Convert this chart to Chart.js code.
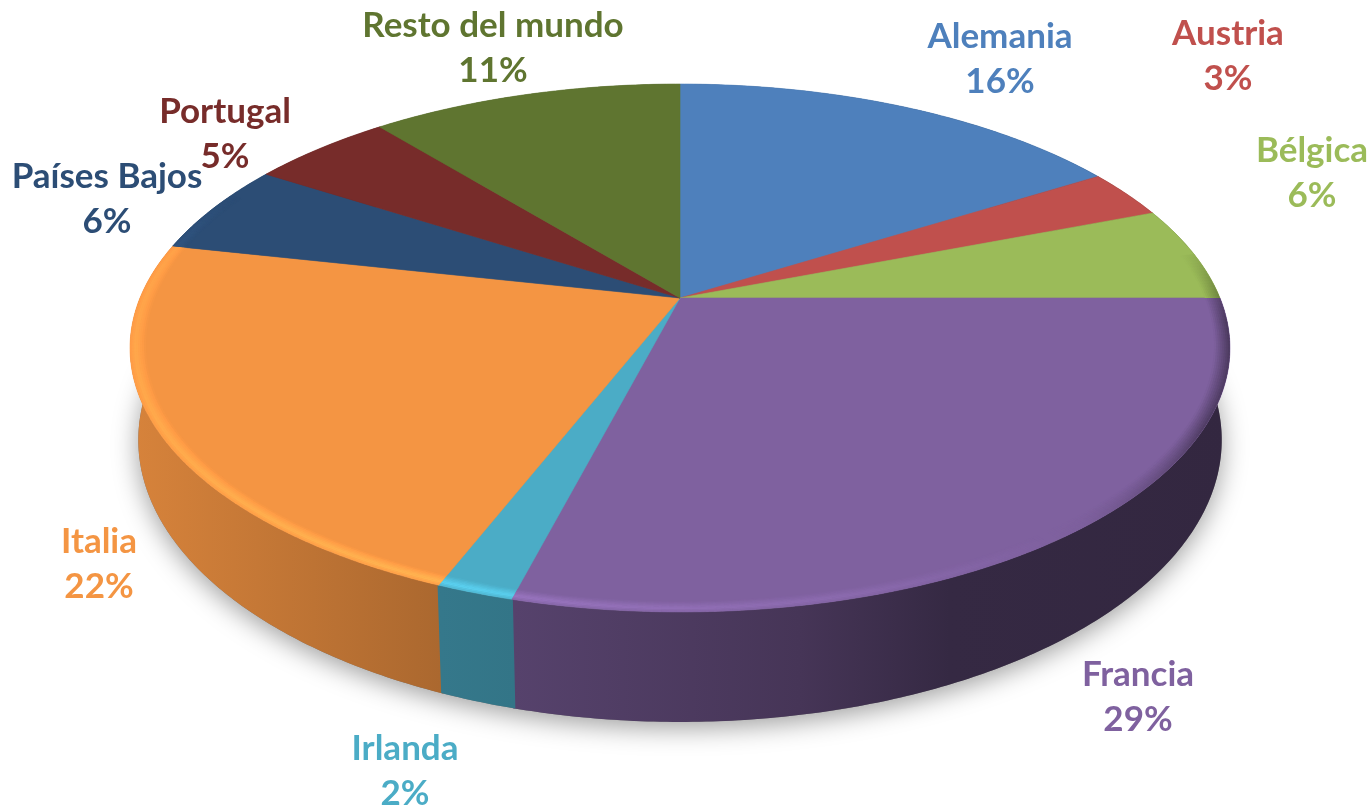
<!DOCTYPE html>
<html><head><meta charset="utf-8">
<style>html,body{margin:0;padding:0;background:#fff}canvas{display:block}</style>
<script src="https://cdn.jsdelivr.net/npm/chart.js@4"></script>
</head><body><canvas id="c" width="1369" height="806"></canvas>
<script>
const categories = ["Alemania","Austria","Bélgica","Francia","Irlanda","Italia","Países Bajos","Portugal","Resto del mundo"];
const shares = [16.2,3,5.8,29.1,1.9,22.4,5.6,5,11];
const sliceColors = ["#4e80bc","#c0504d","#9bbb59","#7f619f","#4bacc6","#f49543","#2c4d75","#772c2a","#5f7530"];
const labelAnchors = [[1000,36.5],[1228,33.5],[1312,150.5],[1138,674.5],[405,748.5],[99,541.5],[107,176.5],[225,111.5],[493,25.5]];

/* perspective of the tilted disc */
const CX=680, CY=298, R=540, TILT_A=254.5, TILT_K=0.1894;
const project=(r,ang)=>{const u=r*Math.cos(ang), v=r*Math.sin(ang), w=1-TILT_K*v;return [CX+R*u/w, CY+TILT_A*v/w];};
const toBase=p=>[CX+(p[0]-CX)*0.985, 440+(p[1]-348)*1.068];
const rgb=h=>[1,3,5].map(i=>parseInt(h.substr(i,2),16));
const mul=(c,f)=>`rgb(${c.map(v=>Math.max(0,Math.min(255,Math.round(v*f)))).join(',')})`;
const sideStops=[[130,.88],[440,.70],[515,.68],[800,.55],[950,.42],[1230,.40]];
const rimKeys=[[80,-.05],[95,-.42],[118,-.38],[140,-.02],[165,.10],[200,.22],[250,.14],[282,.1],[296,0],[360,0]];
const rimStrength=deg=>{deg=((deg%360)+360)%360;if(deg<80)return 0;for(let i=1;i<rimKeys.length;i++){if(deg<=rimKeys[i][0]){const a=rimKeys[i-1],b=rimKeys[i];return a[1]+(b[1]-a[1])*(deg-a[0])/(b[0]-a[0]);}}return 0;};
const steps=(a0,a1,d=0.01)=>{const n=Math.max(2,Math.ceil((a1-a0)/d));const o=[];for(let i=0;i<=n;i++)o.push(a0+(a1-a0)*i/n);return o;};

function tracePoly(ctx,pts){ctx.beginPath();pts.forEach((p,i)=>i?ctx.lineTo(p[0],p[1]):ctx.moveTo(p[0],p[1]));ctx.closePath();}

const pie3d={id:'pie3d',
 beforeDatasetDraw(chart,args){
  const ctx=chart.ctx, arcs=chart.getDatasetMeta(args.index).data, colors=chart.data.datasets[args.index].backgroundColor;
  ctx.save();
  /* soft ground shadow */
  const full=steps(0,Math.PI*2).map(a=>toBase(project(1,a)));
  ctx.save();ctx.shadowColor='rgba(0,0,0,0.38)';ctx.shadowBlur=26;ctx.shadowOffsetX=0;ctx.shadowOffsetY=6;
  ctx.fillStyle='#777';tracePoly(ctx,full);ctx.fill();ctx.restore();
  /* side walls, back to front */
  const mid=el=>Math.sin((el.startAngle+el.endAngle)/2);
  arcs.map((a,i)=>i).sort((p,q)=>mid(arcs[p])-mid(arcs[q])).forEach(i=>{
    const el=arcs[i], c=rgb(colors[i]);
    const top=steps(el.startAngle-0.002,el.endAngle+0.002).map(a=>project(1,a));
    const base=top.map(toBase).reverse();
    const g=ctx.createLinearGradient(130,0,1230,0);
    sideStops.forEach(s=>g.addColorStop((s[0]-130)/1100,mul(c,s[1])));
    ctx.fillStyle=g;tracePoly(ctx,top.concat(base));ctx.fill();
  });
  /* top faces */
  arcs.forEach((el,i)=>{
    const rim=steps(el.startAngle,el.endAngle).map(a=>project(1,a));
    ctx.fillStyle=colors[i];ctx.strokeStyle=colors[i];ctx.lineWidth=.6;ctx.lineJoin='round';
    tracePoly(ctx,[project(0,0)].concat(rim));ctx.fill();ctx.stroke();
  });
  /* bevel along the rim */
  arcs.forEach((el,i)=>{
    const c=rgb(colors[i]);
    const rim=steps(el.startAngle,el.endAngle).map(a=>project(1,a));
    ctx.save();tracePoly(ctx,[project(0,0)].concat(rim));ctx.clip();
    const rings=8, inner=0.972, d=0.012;
    const as=steps(el.startAngle,el.endAngle,d);
    for(let r=0;r<rings;r++){
      const t=(r+.5)/rings, r0=inner+(1-inner)*r/rings, r1=inner+(1-inner)*(r+1)/rings+0.001;
      for(let k=0;k<as.length-1;k++){
        const am=(as[k]+as[k+1])/2, deg=am*180/Math.PI+90, s=rimStrength(deg);
        if(Math.abs(s)<0.004)continue;
        const prof=s>0?(t<.65?t/.65:(1-t)/.35*.7+.3):t;
        ctx.fillStyle=mul(c,1+s*prof);
        const a0=as[k]-0.002,a1=as[k+1]+0.002;
        tracePoly(ctx,[project(r0,a0),project(r1,a0),project(r1,a1),project(r0,a1)]);ctx.fill();
      }
    }
    ctx.restore();
  });
  ctx.restore();
  return false;
 },
 afterDatasetsDraw(chart){
  const ctx=chart.ctx,ds=chart.data.datasets[0];
  ctx.save();ctx.font='bold 35px Lato';ctx.textAlign='center';ctx.textBaseline='middle';
  chart.data.labels.forEach((name,i)=>{
    const [x,y]=labelAnchors[i];
    ctx.fillStyle=ds.backgroundColor[i];
    ctx.fillText(name,x,y);
    ctx.fillText(Math.round(ds.data[i])+'%',x,y+45);
  });
  ctx.restore();
 }};

new Chart(document.getElementById('c'),{
 type:'pie',
 data:{labels:categories,datasets:[{data:shares,backgroundColor:sliceColors,borderWidth:0}]},
 options:{responsive:false,animation:false,layout:{padding:0},plugins:{legend:{display:false},tooltip:{enabled:false}}},
 plugins:[pie3d]
});
</script></body></html>
